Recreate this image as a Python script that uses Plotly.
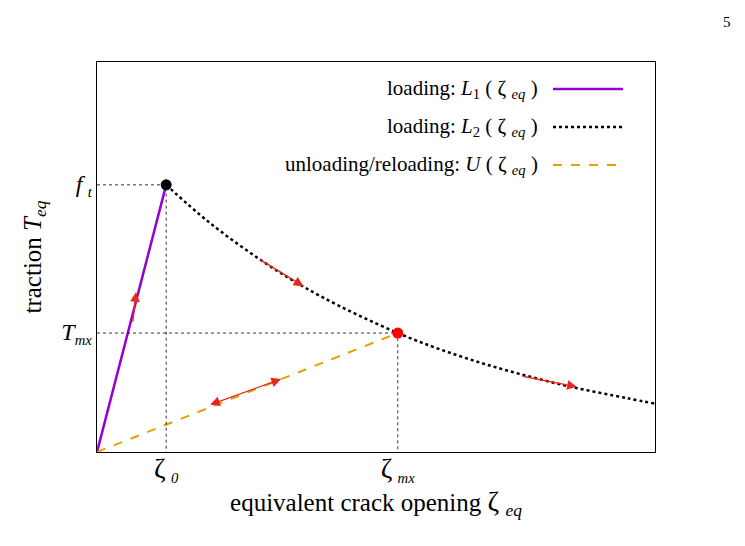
import plotly.graph_objects as go

# schematic values (normalised axes 0..1)
zeta0 = 0.124
zetamx = 0.539
ft = 0.685
tmx = 0.305
L1_x = [0.0, zeta0]
L1_y = [0.0, ft]
L2_x = [0.124, 0.2, 0.3, 0.4, 0.539, 0.65, 0.75, 0.85, 0.95, 1.0]
L2_y = [0.685, 0.590, 0.486, 0.400, 0.305, 0.246, 0.203, 0.167, 0.138, 0.124]
U_x = [0.0, zetamx]
U_y = [0.0, tmx]

F = "Liberation Serif"
fig = go.Figure()
fig.add_trace(go.Scatter(x=L1_x, y=L1_y, mode="lines", line=dict(color="#9400d3", width=2.5)))
fig.add_trace(go.Scatter(x=L2_x, y=L2_y, mode="lines", line=dict(color="black", width=2.5, dash="dot"), line_shape="spline"))
fig.add_trace(go.Scatter(x=U_x, y=U_y, mode="lines", line=dict(color="#e69f00", width=2, dash="dash")))
for px, py in [(zeta0, ft), (zetamx, tmx)]:
    fig.add_trace(go.Scatter(x=[0, px, px], y=[py, py, 0], mode="lines",
                             line=dict(color="black", width=0.8, dash="3px,3px")))
fig.add_trace(go.Scatter(x=[zeta0], y=[ft], mode="markers", marker=dict(color="black", size=11)))
fig.add_trace(go.Scatter(x=[zetamx], y=[tmx], mode="markers", marker=dict(color="red", size=11)))

def arrow(x0, y0, x1, y1, both=False):
    fig.add_annotation(x=x1, y=y1, ax=x0, ay=y0, xref="x", yref="y", axref="x", ayref="y",
                       showarrow=True, arrowhead=2, arrowsize=1.5, arrowwidth=1.3, arrowcolor="#e8281e",
                       arrowside="end+start" if both else "end", text="")
arrow(0.064, 0.33, 0.07, 0.41)
arrow(0.29, 0.495, 0.37, 0.425)
arrow(0.2, 0.12, 0.33, 0.187, both=True)
arrow(0.76, 0.195, 0.86, 0.167)

leg = [("loading: <i>L</i><sub>1</sub> ( ζ <sub><i>eq</i></sub> )", "#9400d3", "solid", 2.5),
       ("loading: <i>L</i><sub>2</sub> ( ζ <sub><i>eq</i></sub> )", "black", "dot", 2.5),
       ("unloading/reloading: <i>U</i> ( ζ <sub><i>eq</i></sub> )", "#e69f00", "dash", 2)]
for i, (t, c, d, w) in enumerate(leg):
    yy = 89 + 38 * i
    yp = 1 - (yy - 62) / 390
    fig.add_annotation(x=(540 - 97) / 558, y=yp, xref="paper", yref="paper", text=t, showarrow=False,
                       xanchor="right", yanchor="middle", font=dict(family=F, size=21, color="black"))
    fig.add_shape(type="line", xref="paper", yref="paper", x0=(553 - 97) / 558, x1=(623 - 97) / 558,
                  y0=yp, y1=yp, line=dict(color=c, width=w, dash=d))
fig.add_annotation(x=(733 - 97) / 558, y=1 + 50 / 390, xref="paper", yref="paper", text="5",
                   showarrow=False, font=dict(family=F, size=15))

fig.update_layout(
    width=737, height=538, margin=dict(l=89, r=90, t=54, b=94),
    plot_bgcolor="white", paper_bgcolor="white", showlegend=False,
    font=dict(family=F, size=21, color="black"),
    xaxis=dict(range=[0, 1], showgrid=False, zeroline=False, showline=True, mirror=True, linecolor="black",
               linewidth=1, ticks="", tickvals=[zeta0, zetamx],
               ticktext=["<span style='font-size:28px'>ζ</span> <sub><i>0</i></sub>",
                         "<span style='font-size:28px'>ζ</span> <sub><i>mx</i></sub>"],
               title=dict(text="equivalent crack opening <span style='font-size:28px'>ζ</span> <sub><i>eq</i></sub>",
                          standoff=8)),
    yaxis=dict(range=[0, 1], showgrid=False, zeroline=False, showline=True, mirror=True, linecolor="black",
               linewidth=1, ticks="", tickvals=[tmx, ft],
               ticktext=["<span style='font-size:24px'><i>T</i></span><sub><i>mx</i></sub>",
                         "<span style='font-size:24px'><i>f</i></span> <sub><i>t</i></sub>"],
               title=dict(text="traction <i>T</i><sub><i>eq</i></sub>", standoff=12)),
)
fig.write_html("out.html")
